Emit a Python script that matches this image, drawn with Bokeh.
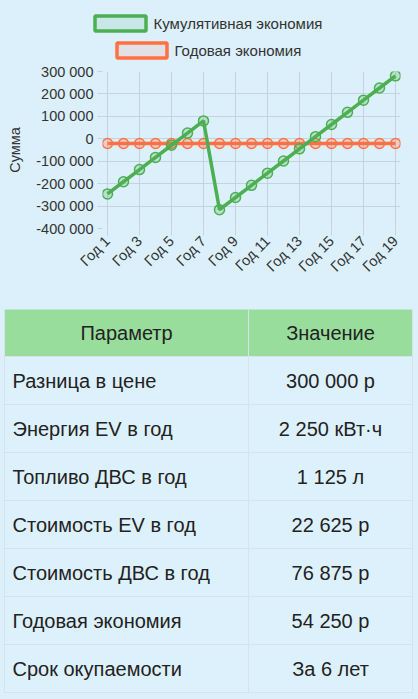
import math
from bokeh.plotting import figure
from bokeh.layouts import column
from bokeh.models import FixedTicker, Range1d, GlobalInlineStyleSheet, ColumnDataSource
from bokeh.core.properties import value
from bokeh.embed import file_html
from bokeh.resources import INLINE

# ---------------- data ----------------
years = [1, 2, 3, 4, 5, 6, 7, 8, 9, 10, 11, 12, 13, 14, 15, 16, 17, 18, 19]
year_labels = ["Год 1", "Год 2", "Год 3", "Год 4", "Год 5", "Год 6", "Год 7", "Год 8",
               "Год 9", "Год 10", "Год 11", "Год 12", "Год 13", "Год 14", "Год 15",
               "Год 16", "Год 17", "Год 18", "Год 19"]
cumulative = [-245750, -191500, -137250, -83000, -28750, 25500, 79750, -316000,
              -261750, -207500, -153250, -99000, -44750, 9500, 63750, 118000,
              172250, 226500, 280750]
annual = [-21000, -21000, -21000, -21000, -21000, -21000, -21000, -21000, -21000,
          -21000, -21000, -21000, -21000, -21000, -21000, -21000, -21000, -21000, -21000]
series_names = ["Кумулятивная экономия", "Годовая экономия"]
y_ticks = [-400000, -300000, -200000, -100000, 0, 100000, 200000, 300000]
y_tick_labels = ["-400 000", "-300 000", "-200 000", "-100 000", "0",
                 "100 000", "200 000", "300 000"]
y_title = "Сумма"
table_header = ["Параметр", "Значение"]
param_names = ["Разница в цене", "Энергия EV в год", "Топливо ДВС в год",
               "Стоимость EV в год", "Стоимость ДВС в год", "Годовая экономия",
               "Срок окупаемости"]
param_values = ["300 000 р", "2 250 кВт·ч", "1 125 л", "22 625 р", "76 875 р",
                "54 250 р", "За 6 лет"]

# ---------------- style ----------------
BG = "#dcf0fc"
GREEN = "#4caf50"
ORANGE = "#ff7043"
GRID = "#c3d4de"
TXT = "#222222"
FONT = "Liberation Sans"
W = 418

def blank(h):
    f = figure(width=W, height=h, x_range=Range1d(0, W), y_range=Range1d(h, 0),
               output_backend="svg", toolbar_location=None, frame_align=False,
               min_border=0, background_fill_color=BG, border_fill_color=BG,
               outline_line_color=None)
    f.axis.visible = False
    f.grid.visible = False
    return f

# ---------------- legend ----------------
leg = blank(62)
leg_rows = [
    dict(x0=94.5, x1=145.5, y0=15.5, y1=30.5, color=GREEN, tx=153, ty=23),
    dict(x0=116.5, x1=166.5, y0=42.5, y1=57.5, color=ORANGE, tx=174, ty=50),
]
for name, r in zip(series_names, leg_rows):
    leg.quad(left=[r["x0"]], right=[r["x1"]], top=[r["y0"]], bottom=[r["y1"]],
             fill_color=r["color"], fill_alpha=0.12, line_color=r["color"], line_width=3.5)
    leg.text(x=[r["tx"]], y=[r["ty"]], text=[name], text_font=value(FONT),
             text_font_size="15px", text_color="#333333",
             text_baseline="middle", text_align="left")

# ---------------- chart ----------------
p = figure(width=W, height=238,
           x_range=Range1d(0.6875, 19.3125), y_range=Range1d(-400000, 300000),
           output_backend="svg", toolbar_location=None, frame_align=False,
           min_border_left=102, min_border_right=18, min_border_top=9, min_border_bottom=72,
           background_fill_color=BG, border_fill_color=BG, outline_line_color=None)

x_ticks = years[::2]
p.xaxis.ticker = FixedTicker(ticks=x_ticks)
p.xgrid.ticker = FixedTicker(ticks=x_ticks)
p.xaxis.major_label_overrides = {y: l for y, l in zip(years, year_labels) if y in x_ticks}
p.yaxis.ticker = FixedTicker(ticks=y_ticks)
p.ygrid.ticker = FixedTicker(ticks=y_ticks)
p.yaxis.major_label_overrides = dict(zip(y_ticks, y_tick_labels))

p.grid.grid_line_color = GRID
p.grid.grid_line_width = 1
p.axis.axis_line_color = None
p.axis.minor_tick_line_color = None
p.axis.major_tick_line_color = GRID
p.axis.major_tick_in = 0
p.yaxis.major_tick_out = 5
p.xaxis.major_tick_out = 7
p.axis.major_label_text_font = FONT
p.axis.major_label_text_font_size = "14.5px"
p.axis.major_label_text_color = "#333333"
p.yaxis.major_label_standoff = 4
p.xaxis.major_label_standoff = 3
p.xaxis.major_label_orientation = math.pi / 4
p.yaxis.axis_label = y_title
p.yaxis.axis_label_text_font = FONT
p.yaxis.axis_label_text_font_size = "14.5px"
p.yaxis.axis_label_text_font_style = "normal"
p.yaxis.axis_label_text_color = "#333333"
p.yaxis.axis_label_standoff = 10

src = ColumnDataSource(dict(x=years, cum=cumulative, ann=annual))
p.line("x", "ann", source=src, line_color=ORANGE, line_width=3.5)
p.scatter("x", "ann", source=src, size=10, line_color=ORANGE, fill_color=ORANGE,
          fill_alpha=0.25, line_width=1.5)
p.line("x", "cum", source=src, line_color=GREEN, line_width=3.5)
p.scatter("x", "cum", source=src, size=10, line_color=GREEN, fill_color=GREEN,
          fill_alpha=0.25, line_width=1.5)

# ---------------- table ----------------
t = blank(399)
TL, TD, TR = 4, 248, 412
TTOP, HEAD_H, ROW_H = 9, 47, 48
n = len(param_names)
head_bot = TTOP + HEAD_H
row_tops = [head_bot + i * ROW_H for i in range(n)]
row_bots = [rt + ROW_H for rt in row_tops]
LINE = "#d8e3e9"

t.quad(left=[TL], right=[TR], top=[TTOP], bottom=[head_bot],
       fill_color="#99dd9c", line_color=None)
t.quad(left=[TL] * n, right=[TR] * n, top=row_tops, bottom=row_bots,
       fill_color="#ddf1fd", line_color=None)
t.segment(x0=[TL] * (n + 1), x1=[TR] * (n + 1), y0=[head_bot] + row_bots,
          y1=[head_bot] + row_bots, line_color=LINE, line_width=1)
t.segment(x0=[TD], x1=[TD], y0=[TTOP], y1=[row_bots[-1]], line_color=LINE, line_width=1)
t.segment(x0=[TL, TR], x1=[TL, TR], y0=[TTOP, TTOP], y1=[row_bots[-1]] * 2,
          line_color=LINE, line_width=1)

t.text(x=[(TL + TD) / 2, (TD + TR) / 2], y=[(TTOP + head_bot) / 2] * 2, text=table_header,
       text_font=value(FONT), text_font_size="20px", text_color=TXT,
       text_align="center", text_baseline="middle")
mids = [(a + b) / 2 for a, b in zip(row_tops, row_bots)]
t.text(x=[TL + 8] * n, y=mids, text=param_names, text_font=value(FONT),
       text_font_size="20px", text_color=TXT, text_align="left", text_baseline="middle")
t.text(x=[(TD + TR) / 2] * n, y=mids, text=param_values, text_font=value(FONT),
       text_font_size="20px", text_color=TXT, text_align="center", text_baseline="middle")

layout = column(leg, p, t, spacing=0,
                stylesheets=[GlobalInlineStyleSheet(
                    css=f"html, body {{ margin: 0 !important; padding: 0; background: {BG}; overflow: hidden; }}")])

open("out.html", "w").write(file_html(layout, INLINE))
